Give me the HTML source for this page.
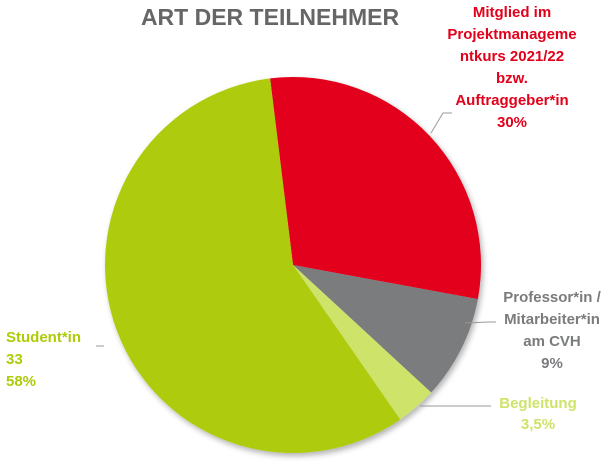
<!DOCTYPE html>
<html><head><meta charset="utf-8"><style>
body{margin:0;background:#fff;width:610px;height:469px;overflow:hidden;font-family:"Liberation Sans",sans-serif}
svg text{font-family:"Liberation Sans",sans-serif;font-weight:bold}
</style></head><body>
<svg id="chart" width="610" height="469" viewBox="0 0 610 469">
<defs><filter id="sh" x="-10%" y="-10%" width="120%" height="120%"><feDropShadow dx="2" dy="3" stdDeviation="3" flood-color="#000" flood-opacity="0.3"/></filter></defs>
<text x="270" y="25" font-size="23" fill="#666" text-anchor="middle">ART DER TEILNEHMER</text>
<g id="slices" filter="url(#sh)"></g>
<g id="labels"></g>
</svg>
<script>
const categories=["Mitglied im Projektmanagementkurs 2021/22 bzw. Auftraggeber*in","Professor*in / Mitarbeiter*in am CVH","Begleitung","Student*in"];
const values=[30,9,3.5,58];
const colors=["#e2001a","#7a7b7d","#cde36a","#afcb08"];
const cx=293,cy=265,r=188,start=-7;
const ns="http://www.w3.org/2000/svg";
const g=document.getElementById('slices');
const total=values.reduce((a,b)=>a+b,0);
function pt(a,rr){const t=a*Math.PI/180;return [cx+rr*Math.sin(t),cy-rr*Math.cos(t)];}
let a=start;
values.forEach((v,i)=>{
 const a2=a+v/total*360;
 const p1=pt(a,r),p2=pt(a2,r);
 const p=document.createElementNS(ns,'path');
 p.setAttribute('d',`M${cx},${cy}L${p1[0]},${p1[1]}A${r},${r} 0 ${a2-a>180?1:0} 1 ${p2[0]},${p2[1]}Z`);
 p.setAttribute('fill',colors[i]);
 
 
 g.appendChild(p);
 a=a2;
});
</script>
<svg style="position:absolute;left:0;top:0" width="610" height="469">
<g fill="none" stroke="#999" stroke-width="1">
<polyline points="431,133 443,113 452,113"/>
<polyline points="465,323 489,322 496,322"/>
<polyline points="420,406 491,406"/>
<polyline points="104,346 96,346"/>
</g>
<g font-weight="bold" font-size="15" text-anchor="middle" font-family="Liberation Sans, sans-serif">
<text fill="#e2001a"><tspan x="512" y="17">Mitglied im</tspan><tspan x="512" y="39">Projektmanageme</tspan><tspan x="512" y="61">ntkurs 2021/22</tspan><tspan x="512" y="83">bzw.</tspan><tspan x="512" y="105">Auftraggeber*in</tspan><tspan x="512" y="127">30%</tspan></text>
<text fill="#7a7b7d"><tspan x="552" y="302">Professor*in /</tspan><tspan x="552" y="324">Mitarbeiter*in</tspan><tspan x="552" y="346">am CVH</tspan><tspan x="552" y="368">9%</tspan></text>
<text fill="#cde36a"><tspan x="538" y="408">Begleitung</tspan><tspan x="538" y="429">3,5%</tspan></text>
<text fill="#afcb08" text-anchor="start"><tspan x="6" y="342">Student*in</tspan><tspan x="6" y="364">33</tspan><tspan x="6" y="386">58%</tspan></text>
</g>
</svg>
</body></html>
